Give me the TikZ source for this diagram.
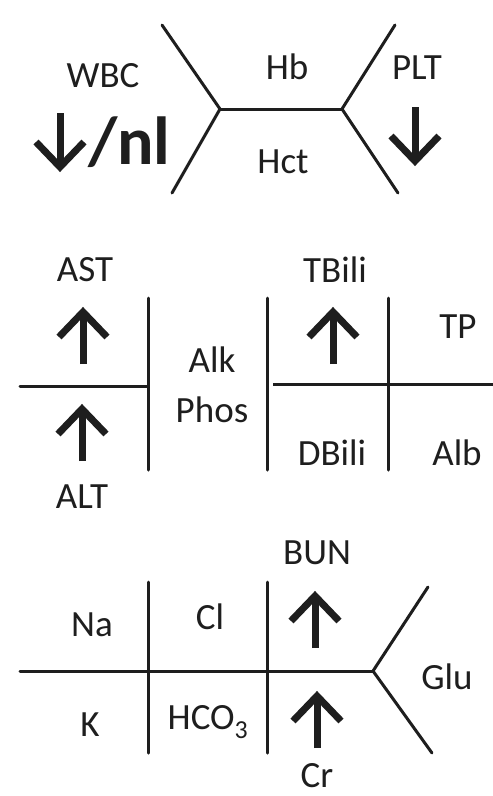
\documentclass[tikz,border=0pt]{standalone}
\usepackage{fontspec}
\setmainfont{Carlito}
\definecolor{ink}{HTML}{1E1E1E}
\begin{document}
\begin{tikzpicture}[x=1pt,y=-1pt,
  lab/.style={font=\fontsize{37}{42}\selectfont, text=ink, inner sep=0pt, anchor=center},
  bone/.style={draw=ink, line width=3pt, line cap=round},
  arrowline/.style={draw=ink, line width=7pt, line cap=butt, line join=miter},
  uparr/.pic={\draw[arrowline] (0,27) -- (0,-25); \draw[arrowline] (-24,0) -- (0,-25) -- (24,0);},
  downarr/.pic={\draw[arrowline] (0,-28) -- (0,26); \draw[arrowline] (-24,1) -- (0,26) -- (24,1);}
]
\useasboundingbox[fill=white] (0,0) rectangle (493,796);

% ---- CBC fishbone ----
\coordinate (cL) at (220,109);
\coordinate (cR) at (342,109);
\coordinate (cLu) at (162,25);
\coordinate (cLd) at (172,193);
\coordinate (cRu) at (395,25);
\coordinate (cRd) at (398,193);
\draw[bone] (cLu) -- (cL) -- (cLd);
\draw[bone] (cL) -- (cR);
\draw[bone] (cRu) -- (cR) -- (cRd);
\node[lab] (wbc) at (103,76) {WBC};
\node[lab] (hb) at (287,67) {Hb};
\node[lab] (hct) at (283,162) {Hct};
\node[lab] (plt) at (417,68) {PLT};
\pic at (60,141) {downarr};
\node[lab, anchor=base west, font=\fontsize{68}{70}\selectfont\bfseries] (nl) at (88,164) {/nl};
\pic at (415,135) {downarr};

% ---- LFT grid ----
\coordinate (hL1) at (20,386);
\coordinate (hL2) at (148,386);
\coordinate (v1t) at (148,298);
\coordinate (v1b) at (148,470);
\coordinate (v2t) at (267,298);
\coordinate (v2b) at (267,470);
\coordinate (hR1) at (273,384);
\coordinate (hR2) at (493,384);
\coordinate (v3t) at (388,298);
\coordinate (v3b) at (388,470);
\draw[bone] (hL1) -- (hL2);
\draw[bone] (v1t) -- (v1b);
\draw[bone] (v2t) -- (v2b);
\draw[bone, line cap=butt] (hR1) -- (hR2);
\draw[bone] (v3t) -- (v3b);
\node[lab] (ast) at (85,270) {AST};
\pic at (83,337) {uparr};
\pic at (82,434) {uparr};
\node[lab] (alt) at (82,497) {ALT};
\node[lab] (alk) at (212,360) {Alk};
\node[lab] (phos) at (212,410) {Phos};
\node[lab] (tbili) at (335,270) {TBili};
\pic at (333,337) {uparr};
\node[lab] (tp) at (458,327) {TP};
\node[lab] (dbili) at (332,453) {DBili};
\node[lab] (alb) at (457,453) {Alb};

% ---- BMP fishbone ----
\coordinate (bh1) at (20,671);
\coordinate (bj) at (373,671);
\coordinate (bv1t) at (148,582);
\coordinate (bv1b) at (148,753);
\coordinate (bv2t) at (267,582);
\coordinate (bv2b) at (267,753);
\coordinate (bu) at (428,587);
\coordinate (bd) at (432,753);
\draw[bone] (bh1) -- (bj);
\draw[bone] (bv1t) -- (bv1b);
\draw[bone] (bv2t) -- (bv2b);
\draw[bone] (bu) -- (bj) -- (bd);
\node[lab] (bun) at (317,553) {BUN};
\node[lab] (na) at (92,625) {Na};
\node[lab] (cl) at (210,617) {Cl};
\pic at (315,621) {uparr};
\node[lab] (k) at (90,725) {K};
\node[lab] (hco) at (208,722) {HCO\textsubscript{3}};
\pic at (317,721) {uparr};
\node[lab] (cr) at (317,776) {Cr};
\node[lab] (glu) at (447,677) {Glu};
\end{tikzpicture}
\end{document}
